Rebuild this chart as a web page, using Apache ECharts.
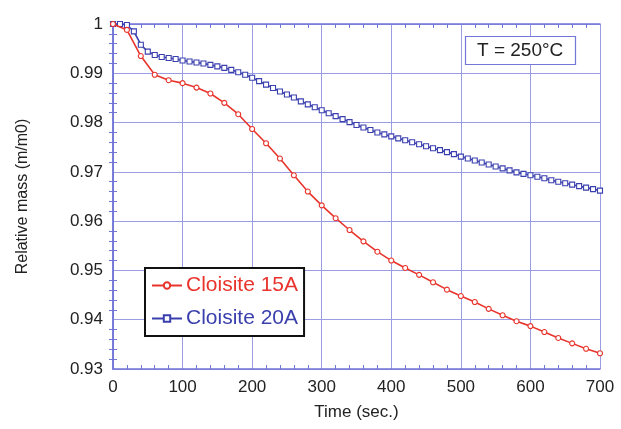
<!DOCTYPE html>
<html>
<head>
<meta charset="utf-8">
<script src="https://cdn.jsdelivr.net/npm/echarts@6/dist/echarts.min.js"></script>
<style>
  html, body { margin: 0; padding: 0; background: #fff; }
  #chart { width: 621px; height: 429px; }
</style>
</head>
<body>
<div id="chart"></div>
<script>
// Cloisite 15A, read every 20 s
var time15 = [0, 20, 40, 60, 80, 100, 120, 140, 160, 180, 200, 220, 240, 260, 280, 300, 320, 340,
  360, 380, 400, 420, 440, 460, 480, 500, 520, 540, 560, 580, 600, 620, 640, 660, 680, 700]
var mass15 = [1.0000, 0.9988, 0.9935, 0.9897, 0.9886, 0.9880, 0.9871, 0.9859, 0.9840, 0.9817,
  0.9787, 0.9758, 0.9727, 0.9693, 0.9660, 0.9632, 0.9606, 0.9582, 0.9559, 0.9538, 0.9520,
  0.9505, 0.9491, 0.9476, 0.9461, 0.9448, 0.9436, 0.9422, 0.9409, 0.9397, 0.9387, 0.9375,
  0.9363, 0.9352, 0.9341, 0.9332]

// Cloisite 20A, read every 10 s
var time20 = [0, 10, 20, 30, 40, 50, 60, 70, 80, 90, 100, 110, 120, 130, 140, 150, 160, 170, 180,
  190, 200, 210, 220, 230, 240, 250, 260, 270, 280, 290, 300, 310, 320, 330, 340, 350, 360, 370,
  380, 390, 400, 410, 420, 430, 440, 450, 460, 470, 480, 490, 500, 510, 520, 530, 540, 550, 560,
  570, 580, 590, 600, 610, 620, 630, 640, 650, 660, 670, 680, 690, 700]
var mass20 = [1.0000, 1.0000, 0.9998, 0.9985, 0.9958, 0.9944, 0.9937, 0.9933, 0.9931, 0.9929,
  0.9926, 0.9924, 0.9922, 0.9920, 0.9917, 0.9914, 0.9911, 0.9907, 0.9902, 0.9897, 0.9891,
  0.9884, 0.9877, 0.9870, 0.9863, 0.9857, 0.9851, 0.9843, 0.9837, 0.9831, 0.9825, 0.9819,
  0.9813, 0.9807, 0.9801, 0.9795, 0.9790, 0.9785, 0.9780, 0.9776, 0.9772, 0.9768, 0.9764,
  0.9760, 0.9756, 0.9752, 0.9748, 0.9744, 0.9740, 0.9736, 0.9731, 0.9727, 0.9723, 0.9719,
  0.9715, 0.9711, 0.9707, 0.9703, 0.9699, 0.9696, 0.9693, 0.9690, 0.9687, 0.9683, 0.9680,
  0.9677, 0.9674, 0.9671, 0.9668, 0.9665, 0.9662]

var xTicks = [0, 100, 200, 300, 400, 500, 600, 700]
var yTicks = [0.93, 0.94, 0.95, 0.96, 0.97, 0.98, 0.99, 1]

var red = '#e8342c'
var blue = '#3a3fae'
var gridColor = '#9a9de3'
var axisColor = '#7276d6'
var font = 'Liberation Sans, Arial, sans-serif'

function pairs(xs, ys) {
  return xs.map(function(x, i) { return [x, ys[i]] })
}

var chart = echarts.init(document.getElementById('chart'))

var xBase = {
  type: 'value',
  min: xTicks[0],
  max: xTicks[xTicks.length - 1],
  interval: 100,
  axisLine: { lineStyle: { color: axisColor, width: 1.5 } },
  axisTick: { inside: true, length: 0 },
  minorTick: { show: true, splitNumber: 5, length: 4, lineStyle: { color: axisColor } }
}
var yBase = {
  type: 'value',
  min: yTicks[0],
  max: yTicks[yTicks.length - 1],
  interval: 0.01,
  axisLine: { lineStyle: { color: axisColor, width: 1.5 } },
  axisTick: { inside: true, length: 0 },
  minorTick: { show: true, splitNumber: 5, length: 4, lineStyle: { color: axisColor } }
}

chart.setOption({
  animation: false,
  textStyle: { fontFamily: font },
  grid: { left: 113, right: 21, top: 24, bottom: 60 },
  title: {
    text: 'T = 250°C',
    left: 465,
    top: 36,
    padding: [5, 12, 5, 12],
    borderColor: axisColor,
    borderWidth: 1.2,
    backgroundColor: '#fff',
    textStyle: { fontFamily: font, fontSize: 19, fontWeight: 'normal', color: '#222' }
  },
  legend: {
    orient: 'vertical',
    left: 145,
    top: 268,
    padding: [7, 6, 7, 6],
    itemGap: 12,
    itemWidth: 30,
    itemHeight: 8,
    borderColor: '#111',
    borderWidth: 2,
    backgroundColor: '#fff',
    textStyle: { fontFamily: font, fontSize: 21, padding: [0, 0, 0, -1] },
    data: [
      { name: 'Cloisite 15A', textStyle: { color: red } },
      { name: 'Cloisite 20A', textStyle: { color: blue } }
    ]
  },
  xAxis: [
    Object.assign({}, xBase, {
      position: 'bottom',
      name: 'Time (sec.)',
      nameLocation: 'middle',
      nameGap: 35,
      nameTextStyle: { fontSize: 17, color: '#222' },
      axisLabel: { fontSize: 17, color: '#222', margin: 10 },
      splitLine: { show: true, lineStyle: { color: gridColor, width: 1 } }
    }),
    Object.assign({}, xBase, {
      position: 'top',
      axisLabel: { show: false },
      splitLine: { show: false }
    })
  ],
  yAxis: [
    Object.assign({}, yBase, {
      position: 'left',
      name: 'Relative mass (m/m0)',
      nameLocation: 'middle',
      nameGap: 82,
      nameTextStyle: { fontSize: 16, color: '#222' },
      axisLabel: { fontSize: 17, color: '#222', margin: 10 },
      splitLine: { show: true, lineStyle: { color: gridColor, width: 1 } }
    }),
    Object.assign({}, yBase, {
      position: 'right',
      axisLabel: { show: false },
      splitLine: { show: false }
    })
  ],
  series: [
    {
      name: 'Cloisite 15A',
      type: 'line',
      data: pairs(time15, mass15),
      symbol: 'circle',
      symbolSize: 5,
      showAllSymbol: true,
      lineStyle: { color: red, width: 1.6 },
      itemStyle: { color: '#fff', borderColor: red, borderWidth: 1.1 },
      z: 3
    },
    {
      name: 'Cloisite 20A',
      type: 'line',
      data: pairs(time20, mass20),
      symbol: 'rect',
      symbolSize: 5,
      showAllSymbol: true,
      lineStyle: { color: blue, width: 1.6 },
      itemStyle: { color: '#fff', borderColor: blue, borderWidth: 1.1 },
      z: 2
    }
  ]
})
</script>
</body>
</html>
